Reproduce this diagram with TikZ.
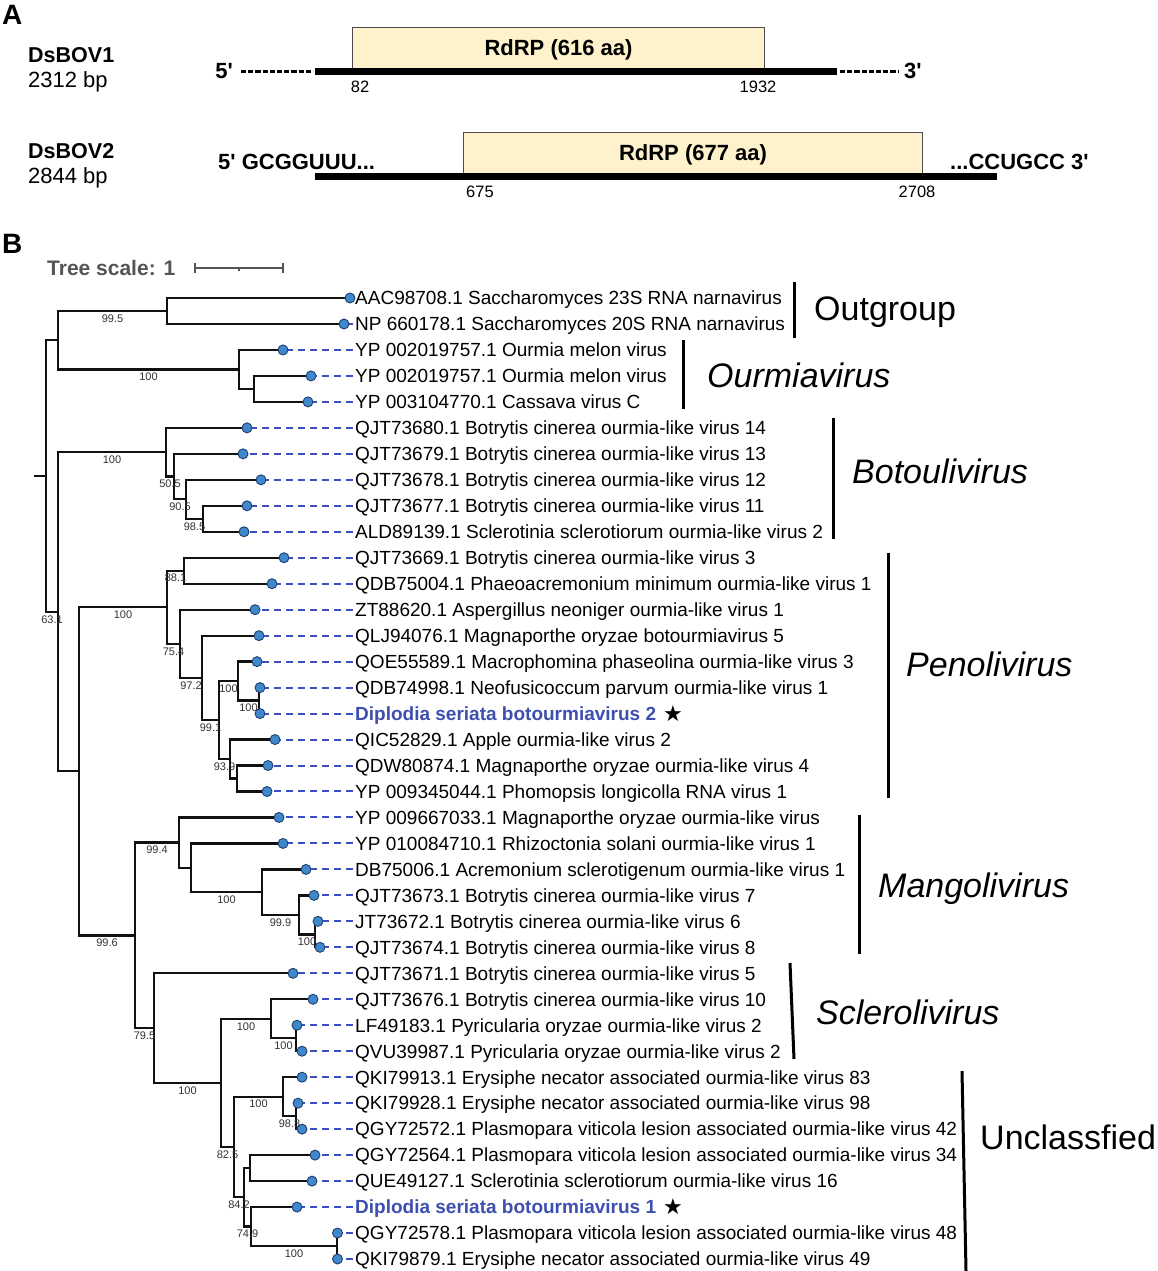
\documentclass[tikz,border=0pt]{standalone}
\usepackage{fontspec}
\setmainfont{Liberation Sans}
\newfontfamily\djv{DejaVu Sans}
\usetikzlibrary{calc}
\definecolor{dblue}{HTML}{3E4FB0}
\definecolor{dashblue}{HTML}{3A4FC4}
\definecolor{tipfill}{HTML}{3F88CC}
\definecolor{tipdraw}{HTML}{1F3F6F}
\definecolor{boxfill}{HTML}{FDF2CB}
\definecolor{treeline}{HTML}{111111}
\definecolor{bsgray}{HTML}{333333}
\definecolor{scgray}{HTML}{555555}
\begin{document}
\begin{tikzpicture}[x=1pt,y=-1pt,
  leaflab/.style={font=\fontsize{19}{22}\selectfont, text=black, inner xsep=2.5pt, inner ysep=0pt, anchor=base west},
  dleaflab/.style={leaflab, font=\fontsize{19}{22}\selectfont\bfseries, text=dblue},
  leaftip/.style={circle, fill=tipfill, draw=tipdraw, line width=0.9pt, inner sep=0pt, minimum size=10pt},
  branch/.style={line width=2.3pt, draw=treeline},
  leafdash/.style={draw=dashblue, line width=2pt, dash pattern=on 6.5pt off 5.5pt},
  bootlab/.style={font=\fontsize{11}{12}\selectfont, text=bsgray, inner sep=0pt},
  cladebar/.style={line width=3pt, draw=black},
  cladename/.style={font=\fontsize{34}{40}\selectfont, inner sep=0pt, anchor=base west},
  icladename/.style={cladename, font=\fontsize{34}{40}\selectfont\itshape},
  rdrpbox/.style={draw=black!70, line width=1pt, fill=boxfill, font=\fontsize{22}{26}\selectfont\bfseries, anchor=north west, inner sep=0pt},
  genline/.style={line width=7pt, draw=black},
  gendash/.style={line width=2.6pt, draw=black, dash pattern=on 5.2pt off 2pt},
  bigbold/.style={font=\fontsize{22}{26}\selectfont\bfseries, inner sep=0pt},
  posnum/.style={font=\fontsize{16.5}{19}\selectfont, inner sep=0pt},
  panellab/.style={font=\fontsize{28}{32}\selectfont\bfseries, inner sep=0pt, anchor=base west},
  virname/.style={font=\fontsize{21.5}{25}\selectfont\bfseries, inner sep=0pt, anchor=base west},
  virsize/.style={font=\fontsize{22}{26}\selectfont, inner sep=0pt, anchor=base west},
  starsym/.style={font=\djv\fontsize{22}{24}\selectfont, inner sep=0pt}
]
\useasboundingbox (0,0) rectangle (1157,1271);
\fill[white] (0,0) rectangle (1157,1271);

% ---------------- Panel A ----------------
\node[panellab] (pA) at (2,25) {A};
\node[virname] (n1) at (28,63) {DsBOV1};
\node[virsize] (s1) at (28,88) {2312 bp};
\node[virname] (n2) at (28,158) {DsBOV2};
\node[virsize] (s2) at (28,183) {2844 bp};

\node[rdrpbox, minimum width=412pt, minimum height=44pt] (box1) at (352,27) {RdRP (616 aa)};
\coordinate (g1s) at (315,71.5);
\coordinate (g1e) at (837,71.5);
\draw[genline] (g1s) -- (g1e);
\coordinate (d1s) at (241,71.5);
\coordinate (d1e) at (313,71.5);
\draw[gendash] (d1s) -- (d1e);
\coordinate (d2s) at (840,71.5);
\coordinate (d2e) at (898,71.5);
\draw[gendash] (d2s) -- (d2e);
\node[bigbold, anchor=base east] (p5a) at (233,79) {5\textquotesingle};
\node[bigbold, anchor=base west] (p3a) at (904,79) {3\textquotesingle};
\node[posnum] (n82) at (360,87) {82};
\node[posnum] (n1932) at (758,87) {1932};

\node[rdrpbox, minimum width=459pt, minimum height=44pt] (box2) at (463,132) {RdRP (677 aa)};
\coordinate (g2s) at (315,176.5);
\coordinate (g2e) at (997,176.5);
\draw[genline] (g2s) -- (g2e);
\node[bigbold, anchor=base west] (p5b) at (218,169.5) {5\textquotesingle{} GCGGUUU...};
\node[bigbold, anchor=base west] (p3b) at (950,169.5) {...CCUGCC 3\textquotesingle};
\node[posnum] (n675) at (480,192) {675};
\node[posnum] (n2708) at (917,192) {2708};

% ---------------- Panel B ----------------
\node[panellab] (pB) at (2,253) {B};
\node[font=\fontsize{21}{24}\selectfont\bfseries, text=scgray, inner sep=0pt, anchor=base west] (tscale) at (47,275) {Tree scale: 1};
\coordinate (sb1) at (195,268);
\coordinate (sb2) at (283,268);
\coordinate (sbm) at (239,268);
\draw[scgray, line width=1.5pt] (sb1) -- (sb2);
\draw[scgray, line width=1.5pt] ([yshift=-5pt]sb1) -- ([yshift=5pt]sb1);
\draw[scgray, line width=1.5pt] ([yshift=-5pt]sb2) -- ([yshift=5pt]sb2);
\draw[scgray, line width=1.2pt] (sbm) -- ([yshift=-3pt]sbm);

% leaf coordinates and labels
\foreach \i/\x/\sty/\txt in {
1/350/leaflab/AAC98708.1 Saccharomyces 23S RNA narnavirus,
2/344/leaflab/NP 660178.1 Saccharomyces 20S RNA narnavirus,
3/283/leaflab/YP 002019757.1 Ourmia melon virus,
4/311/leaflab/YP 002019757.1 Ourmia melon virus,
5/308/leaflab/YP 003104770.1 Cassava virus C,
6/247/leaflab/QJT73680.1 Botrytis cinerea ourmia-like virus 14,
7/243/leaflab/QJT73679.1 Botrytis cinerea ourmia-like virus 13,
8/261/leaflab/QJT73678.1 Botrytis cinerea ourmia-like virus 12,
9/247/leaflab/QJT73677.1 Botrytis cinerea ourmia-like virus 11,
10/244/leaflab/ALD89139.1 Sclerotinia sclerotiorum ourmia-like virus 2,
11/284/leaflab/QJT73669.1 Botrytis cinerea ourmia-like virus 3,
12/272/leaflab/QDB75004.1 Phaeoacremonium minimum ourmia-like virus 1,
13/255/leaflab/ZT88620.1 Aspergillus neoniger ourmia-like virus 1,
14/259/leaflab/QLJ94076.1 Magnaporthe oryzae botourmiavirus 5,
15/257/leaflab/QOE55589.1 Macrophomina phaseolina ourmia-like virus 3,
16/260/leaflab/QDB74998.1 Neofusicoccum parvum ourmia-like virus 1,
17/260/dleaflab/Diplodia seriata botourmiavirus 2,
18/275/leaflab/QIC52829.1 Apple ourmia-like virus 2,
19/268/leaflab/QDW80874.1 Magnaporthe oryzae ourmia-like virus 4,
20/267/leaflab/YP 009345044.1 Phomopsis longicolla RNA virus 1,
21/279/leaflab/YP 009667033.1 Magnaporthe oryzae ourmia-like virus,
22/283/leaflab/YP 010084710.1 Rhizoctonia solani ourmia-like virus 1,
23/306/leaflab/DB75006.1 Acremonium sclerotigenum ourmia-like virus 1,
24/314/leaflab/QJT73673.1 Botrytis cinerea ourmia-like virus 7,
25/318/leaflab/JT73672.1 Botrytis cinerea ourmia-like virus 6,
26/320/leaflab/QJT73674.1 Botrytis cinerea ourmia-like virus 8,
27/293/leaflab/QJT73671.1 Botrytis cinerea ourmia-like virus 5,
28/313/leaflab/QJT73676.1 Botrytis cinerea ourmia-like virus 10,
29/297/leaflab/LF49183.1 Pyricularia oryzae ourmia-like virus 2,
30/302/leaflab/QVU39987.1 Pyricularia oryzae ourmia-like virus 2,
31/302/leaflab/QKI79913.1 Erysiphe necator associated ourmia-like virus 83,
32/298/leaflab/QKI79928.1 Erysiphe necator associated ourmia-like virus 98,
33/302/leaflab/QGY72572.1 Plasmopara viticola lesion associated ourmia-like virus 42,
34/315/leaflab/QGY72564.1 Plasmopara viticola lesion associated ourmia-like virus 34,
35/312/leaflab/QUE49127.1 Sclerotinia sclerotiorum ourmia-like virus 16,
36/297/dleaflab/Diplodia seriata botourmiavirus 1,
37/337.5/leaflab/QGY72578.1 Plasmopara viticola lesion associated ourmia-like virus 48,
38/337.5/leaflab/QKI79879.1 Erysiphe necator associated ourmia-like virus 49}{
  \pgfmathsetmacro{\yy}{298+(\i-1)*25.973}
  \coordinate (c\i) at (\x,\yy);
  \node[style=\sty] (l\i) at (352.5,{\yy+6.8}) {\txt};
}
\node[starsym] (star2) at (673,713.6) {★};
\node[starsym] (star1) at (673,1207) {★};

% internal nodes
\coordinate (R0) at (34,476.0);
\coordinate (R) at (46,476.0);
\coordinate (A) at (58,340.21);
\coordinate (B) at (58,611.77);
\coordinate (O) at (167,310.99);
\coordinate (M) at (239,369.43);
\coordinate (M2) at (254,388.9);
\coordinate (Bo) at (166,452.22);
\coordinate (Bo2) at (174,476.57);
\coordinate (Bo3) at (186,499.29);
\coordinate (Bo4) at (203,518.77);
\coordinate (C) at (79,771.31);
\coordinate (P) at (167,607.25);
\coordinate (P1) at (184,570.72);
\coordinate (P2) at (180,643.77);
\coordinate (P3) at (202,677.86);
\coordinate (P4) at (219,720.06);
\coordinate (P5) at (238,681.1);
\coordinate (P7) at (259,700.58);
\coordinate (P6) at (230,759.02);
\coordinate (P8) at (237,778.5);
\coordinate (D) at (135,935.36);
\coordinate (Mg) at (179,842.63);
\coordinate (Mg2) at (191,867.79);
\coordinate (Mg3) at (262,892.14);
\coordinate (Mg4) at (299,914.86);
\coordinate (Mg5) at (315,934.34);
\coordinate (Sc) at (154,1028.09);
\coordinate (Sc2) at (221,1082.88);
\coordinate (Sc3) at (271,1018.75);
\coordinate (Sc4) at (296,1038.23);
\coordinate (Un) at (234,1147.0);
\coordinate (Un1) at (283,1096.67);
\coordinate (Un3) at (296,1116.15);
\coordinate (Un2) at (244,1197.32);
\coordinate (Un4) at (250,1168.1);
\coordinate (Un5) at (251,1226.54);
\coordinate (Un6) at (337,1246.02);

% branches
\draw[branch] (R0) -- (R);
\foreach \p/\c in {R/A,R/B,A/O,A/M,O/c1,O/c2,M/c3,M/M2,M2/c4,M2/c5,
  B/Bo,B/C,Bo/c6,Bo/Bo2,Bo2/c7,Bo2/Bo3,Bo3/c8,Bo3/Bo4,Bo4/c9,Bo4/c10,
  C/P,C/D,P/P1,P/P2,P1/c11,P1/c12,P2/c13,P2/P3,P3/c14,P3/P4,P4/P5,P4/P6,
  P5/c15,P5/P7,P7/c16,P7/c17,P6/c18,P6/P8,P8/c19,P8/c20,
  D/Mg,D/Sc,Mg/c21,Mg/Mg2,Mg2/c22,Mg2/Mg3,Mg3/c23,Mg3/Mg4,Mg4/c24,Mg4/Mg5,Mg5/c25,Mg5/c26,
  Sc/c27,Sc/Sc2,Sc2/Sc3,Sc2/Un,Sc3/c28,Sc3/Sc4,Sc4/c29,Sc4/c30,
  Un/Un1,Un/Un2,Un1/c31,Un1/Un3,Un3/c32,Un3/c33,Un2/Un4,Un2/Un5,Un4/c34,Un4/c35,
  Un5/c36,Un5/Un6,Un6/c37,Un6/c38}{
  \draw[branch, line join=miter, line cap=rect] (\p) |- (\c);
}

% tips and dashed leaders
\foreach \i in {1,...,38}{
  \node[leaftip] (t\i) at (c\i) {};
  \ifnum\i>1
    \draw[leafdash] (t\i -| l\i.west) -- (t\i);
  \fi
}

% bootstrap values
\foreach \n/\x/\y/\v in {b1/112.5/318.5/99.5, b2/148.5/376.9/100, b3/112/459.7/100,
  b4/170/484.1/50.5, b5/180/506.8/90.5, b6/194.5/526.3/98.5, b7/52/619.3/63.1,
  b8/123/614.8/100, b9/175.5/578.2/88.1, b10/173.5/651.3/75.4, b11/191/685.4/97.2,
  b12/210.5/727.6/99.1, b13/228.5/688.6/100, b14/248.5/708.1/100, b15/224.5/766.5/93.9,
  b16/107/942.9/99.6, b17/157/850.1/99.4, b18/226.5/899.6/100, b19/280.5/922.4/99.9,
  b20/307/941.8/100, b21/144.5/1035.6/79.5, b22/187.5/1090.4/100, b23/246/1026.3/100,
  b24/283.5/1045.7/100, b25/227.5/1154.5/82.5, b26/258.5/1104.2/100, b27/289.5/1123.7/98.8,
  b28/239/1204.8/84.2, b29/247.5/1234/74.9, b30/294/1253.5/100}{
  \node[bootlab] (\n) at (\x,\y) {\v};
}

% clade bars and names
\coordinate (og1) at (794,282); \coordinate (og2) at (794,338);
\draw[cladebar] (og1) -- (og2);
\node[cladename] (cog) at (814,320.5) {Outgroup};
\coordinate (om1) at (683,340); \coordinate (om2) at (683,409);
\draw[cladebar] (om1) -- (om2);
\node[icladename] (com) at (707,387) {Ourmiavirus};
\coordinate (bo1) at (833,418); \coordinate (bo2) at (833,539);
\draw[cladebar] (bo1) -- (bo2);
\node[icladename] (cbo) at (852,483) {Botoulivirus};
\coordinate (pe1) at (888,553); \coordinate (pe2) at (888,798);
\draw[cladebar] (pe1) -- (pe2);
\node[icladename] (cpe) at (906,676) {Penolivirus};
\coordinate (ma1) at (859,815); \coordinate (ma2) at (859,954);
\draw[cladebar] (ma1) -- (ma2);
\node[icladename] (cma) at (878,897) {Mangolivirus};
\coordinate (sc1) at (790,963); \coordinate (sc2) at (794,1059);
\draw[cladebar] (sc1) -- (sc2);
\node[icladename] (csc) at (816,1024) {Sclerolivirus};
\coordinate (un1) at (962,1071); \coordinate (un2) at (966,1271);
\draw[cladebar] (un1) -- (un2);
\node[cladename] (cun) at (980,1149) {Unclassfied};
\end{tikzpicture}
\end{document}
